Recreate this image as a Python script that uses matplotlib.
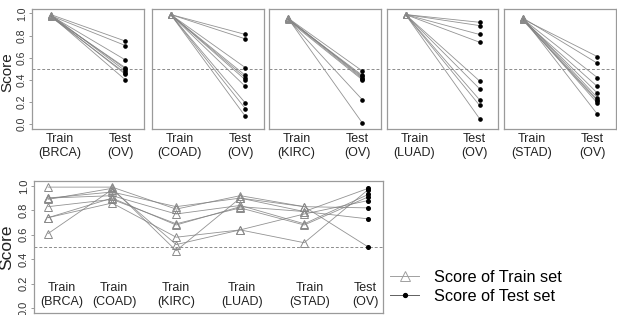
import matplotlib
matplotlib.use("Agg")
import matplotlib.pyplot as plt
from matplotlib.lines import Line2D

plt.rcParams["font.family"] = ["Liberation Sans", "DejaVu Sans"]

# -----------------------------------------
# data: top row, one panel per training cancer
# -----------------------------------------
panel_names = ["BRCA", "COAD", "KIRC", "LUAD", "STAD"]

brca_train = [0.99, 0.98, 0.98, 0.97, 0.98, 0.99, 0.97, 0.98, 0.98]
brca_test = [0.75, 0.71, 0.58, 0.51, 0.50, 0.48, 0.46, 0.45, 0.40]

coad_train = [0.99, 0.99, 0.99, 0.99, 0.99, 0.99, 0.99, 0.99, 0.99, 0.99]
coad_test = [0.81, 0.77, 0.51, 0.44, 0.42, 0.40, 0.34, 0.19, 0.14, 0.07]

kirc_train = [0.96, 0.95, 0.95, 0.96, 0.95, 0.94, 0.95, 0.96]
kirc_test = [0.48, 0.44, 0.43, 0.42, 0.41, 0.40, 0.22, 0.01]

luad_train = [0.99, 0.99, 0.99, 0.99, 0.99, 0.99, 0.99, 0.99, 0.99]
luad_test = [0.92, 0.89, 0.81, 0.74, 0.39, 0.32, 0.22, 0.17, 0.05]

stad_train = [0.95, 0.96, 0.95, 0.94, 0.95, 0.96, 0.95, 0.94, 0.95, 0.96]
stad_test = [0.61, 0.55, 0.42, 0.34, 0.28, 0.24, 0.22, 0.21, 0.19, 0.09]

top_train = [brca_train, coad_train, kirc_train, luad_train, stad_train]
top_test = [brca_test, coad_test, kirc_test, luad_test, stad_test]

# -----------------------------------------
# data: bottom panel, one line per model
# columns: BRCA, COAD, KIRC, LUAD, STAD (train), OV (test)
# -----------------------------------------
bottom_labels = ["Train\n(BRCA)", "Train\n(COAD)", "Train\n(KIRC)",
                 "Train\n(LUAD)", "Train\n(STAD)", "Test\n(OV)"]
bottom_series = [
    [0.99, 0.99, 0.81, 0.92, 0.83, 0.50],
    [0.90, 0.95, 0.83, 0.90, 0.79, 0.98],
    [0.90, 0.92, 0.77, 0.84, 0.69, 0.93],
    [0.83, 0.89, 0.69, 0.82, 0.68, 0.91],
    [0.74, 0.86, 0.58, 0.64, 0.77, 0.88],
    [0.61, 0.97, 0.52, 0.64, 0.535, 0.97],
    [0.89, 0.98, 0.47, 0.90, 0.83, 0.82],
    [0.74, 0.90, 0.68, 0.83, 0.79, 0.73],
]

# -----------------------------------------
# layout helpers (pixel boxes -> figure fractions)
# -----------------------------------------
W, H = 617, 315
fig = plt.figure(figsize=(W / 100, H / 100), dpi=100)


def px_axes(x0, y0, x1, y1):
    return fig.add_axes([x0 / W, 1 - y1 / H, (x1 - x0) / W, (y1 - y0) / H])


box_col = "#9a9a9a"
line_col = "#808080"
tri_col = "#8a8a8a"


def style_box(ax, show_y, tick_size):
    for s in ax.spines.values():
        s.set_color(box_col)
        s.set_linewidth(0.9)
    ax.set_ylim(-0.04, 1.04)
    ax.set_xticks([])
    ax.axhline(0.5, color="#8c8c8c", lw=0.7, ls=(0, (3, 2)))
    if show_y:
        ax.set_yticks([0.0, 0.2, 0.4, 0.6, 0.8, 1.0])
        ax.set_yticklabels(["0.0", "0.2", "0.4", "0.6", "0.8", "1.0"],
                           rotation=90, va="center", fontsize=tick_size,
                           color="#333333")
        ax.tick_params(axis="y", length=2.2, width=0.7, color=box_col, pad=1.5)
    else:
        ax.set_yticks([])


# -----------------------------------------
# top row
# -----------------------------------------
top_boxes = [(32, 9, 144, 128.5), (152, 9, 264, 128.5), (269, 9, 381, 128.5),
             (387, 9, 498, 128.5), (504, 9, 616, 128.5)]

for i, name in enumerate(panel_names):
    ax = px_axes(*top_boxes[i])
    ax.set_xlim(0.75, 2.25)
    style_box(ax, i == 0, 7.5)
    for tr, te in zip(top_train[i], top_test[i]):
        ax.plot([1, 2], [tr, te], color=line_col, lw=0.6, alpha=0.85)
    ax.plot([1] * len(top_train[i]), top_train[i], ls="none", marker="^",
            ms=4.5, mfc="none", mec=tri_col, mew=0.7)
    ax.plot([2] * len(top_test[i]), top_test[i], ls="none", marker="o",
            ms=2.3, color="black")
    ax.text(1.12, -0.146, "Train\n(" + name + ")", ha="center", va="center",
            fontsize=9, color="#222222", linespacing=1.25,
            transform=ax.get_xaxis_transform(), clip_on=False)
    ax.text(1.93, -0.146, "Test\n(OV)", ha="center", va="center",
            fontsize=9, color="#222222", linespacing=1.25,
            transform=ax.get_xaxis_transform(), clip_on=False)

fig.text(7 / W, 1 - 72 / H, "Score", rotation=90, ha="center", va="center",
         fontsize=11, color="#222222")

# -----------------------------------------
# bottom panel
# -----------------------------------------
ax = px_axes(34, 181, 383, 313)
ax.set_xlim(0.78, 6.23)
style_box(ax, True, 8)
xs = list(range(1, 7))
for ys in bottom_series:
    ax.plot(xs, ys, color=line_col, lw=0.6, alpha=0.85)
    ax.plot(xs[:5], ys[:5], ls="none", marker="^", ms=5.2, mfc="none",
            mec=tri_col, mew=0.7)
    ax.plot(xs[5], ys[5], ls="none", marker="o", ms=2.6, color="black")

label_x = [1.22, 2.03, 3.0, 4.03, 5.08, 5.95]
for lx, lab in zip(label_x, bottom_labels):
    ax.text(lx, 0.108, lab, ha="center", va="center", fontsize=9,
            color="#222222", linespacing=1.15)

fig.text(7 / W, 1 - 247 / H, "Score", rotation=90, ha="center", va="center",
         fontsize=12.5, color="#222222")

# -----------------------------------------
# legend
# -----------------------------------------
handles = [
    Line2D([], [], color="#a0a0a0", lw=0.7, marker="^", ms=6.5, mfc="none",
           mec="#a0a0a0", mew=0.7),
    Line2D([], [], color="#606060", lw=0.7, marker="o", ms=2.8,
           mfc="black", mec="black"),
]
fig.legend(handles, ["Score of Train set", "Score of Test set"],
           loc="center left", bbox_to_anchor=(390 / W, 1 - 287 / H),
           frameon=False, fontsize=11.7, handlelength=1.8, handletextpad=0.92,
           labelspacing=0.25, borderaxespad=0, borderpad=0)

fig.savefig("out.png", dpi=100)
